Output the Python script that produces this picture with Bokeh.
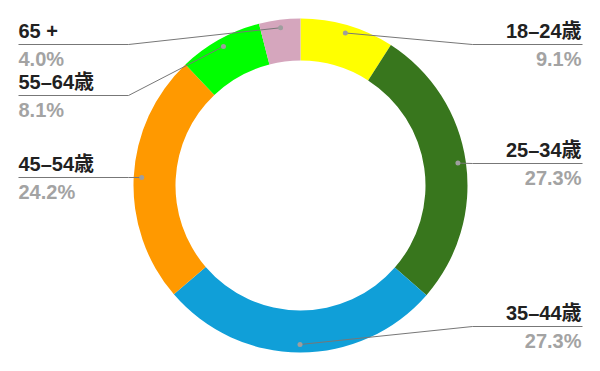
import numpy as np
from bokeh.plotting import figure
from bokeh.models import Range1d, ColumnDataSource
from bokeh.core.properties import value
from bokeh.embed import file_html
from bokeh.resources import INLINE

categories = ["18–24歳", "25–34歳", "35–44歳", "45–54歳", "55–64歳", "65 +"]
shares = [9.1, 27.3, 27.3, 24.2, 8.1, 4.0]
colors = ["#ffff00", "#38761d", "#109fd8", "#ff9900", "#00ff00", "#d5a6bd"]

# layout (screen px)
W, H = 600, 371
CX, CY = 300, H - 185
R_OUT, R_IN, R_DOT = 167, 125, 159
KNEE = 172
line_screen_y = [44, 163, 326, 177, 95, 44]
side = [1, 1, 1, -1, -1, -1]
FONT = "Liberation Sans, Noto Sans CJK JP"

p = figure(width=W, height=H, output_backend="svg", toolbar_location=None,
           x_range=Range1d(0, W), y_range=Range1d(0, H), min_border=0,
           outline_line_color=None)
p.axis.visible = False
p.grid.visible = False
p.background_fill_color = "white"

vals = np.array(shares)
frac = vals / vals.sum()
c1 = np.cumsum(frac)
c0 = c1 - frac
start = np.pi / 2 - 2 * np.pi * c0
end = np.pi / 2 - 2 * np.pi * c1
mid = (start + end) / 2

src = ColumnDataSource(dict(start=start, end=end, color=colors))
p.annular_wedge(x=CX, y=CY, inner_radius=R_IN, outer_radius=R_OUT,
                start_angle="start", end_angle="end", direction="clock",
                fill_color="color", line_color=None, source=src)

dx = CX + R_DOT * np.cos(mid)
dy = CY + R_DOT * np.sin(mid)
xs, ys = [], []
lx, ly, px, py, align = [], [], [], [], []
for i in range(len(categories)):
    yl = H - line_screen_y[i]
    kx = CX + side[i] * KNEE
    ex = 582 if side[i] > 0 else 18
    xs.append([dx[i], kx, ex])
    ys.append([dy[i], yl, yl])
    tx = 581 if side[i] > 0 else 18
    lx.append(tx); ly.append(yl + 14)
    px.append(tx); py.append(yl - 14)
    align.append("right" if side[i] > 0 else "left")

p.multi_line(xs=xs, ys=ys, line_color="#777777", line_width=1)
p.scatter(x=dx, y=dy, size=5, fill_color="#9e9e9e", line_color=None)

tsrc = ColumnDataSource(dict(lx=lx, ly=ly, px=px, py=py, align=align,
                             lab=categories, pct=[f"{v:.1f}%" for v in shares]))
p.text(x="lx", y="ly", text="lab", text_align="align", text_baseline="middle",
       text_font=value(FONT), text_font_size="20px", text_font_style="bold",
       text_color="#212121", source=tsrc)
p.text(x="px", y="py", text="pct", text_align="align", text_baseline="middle",
       text_font=value(FONT), text_font_size="20px", text_font_style="bold",
       text_color="#a3a3a3", source=tsrc)

open("out.html", "w").write(file_html(p, INLINE))
